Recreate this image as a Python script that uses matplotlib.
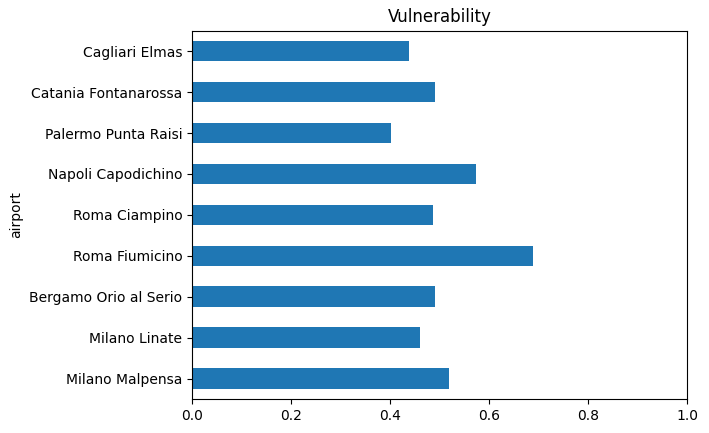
import matplotlib
matplotlib.use("Agg")
import matplotlib.pyplot as plt

# airports, bottom to top (same order as the dataframe index)
airports = ["Milano Malpensa", "Milano Linate", "Bergamo Orio al Serio",
            "Roma Fiumicino", "Roma Ciampino", "Napoli Capodichino",
            "Palermo Punta Raisi", "Catania Fontanarossa", "Cagliari Elmas"]
vulnerability = [0.519, 0.460, 0.490, 0.688, 0.486, 0.573, 0.403, 0.490, 0.438]

fig = plt.figure(figsize=(7.09, 4.33), dpi=100)
ax = fig.add_axes([192/709, 1 - 399/433, (687-192)/709, (399-30.7)/433])

pos = range(len(airports))
ax.barh(pos, vulnerability, height=0.5, color="#1f77b4")
ax.set_yticks(list(pos))
ax.set_yticklabels(airports)
ax.set_ylim(-0.5, len(airports) - 0.5)
ax.set_xlim(0, 1)
ax.set_ylabel("airport")
ax.set_title("Vulnerability")

fig.savefig("out.png", dpi=100)
